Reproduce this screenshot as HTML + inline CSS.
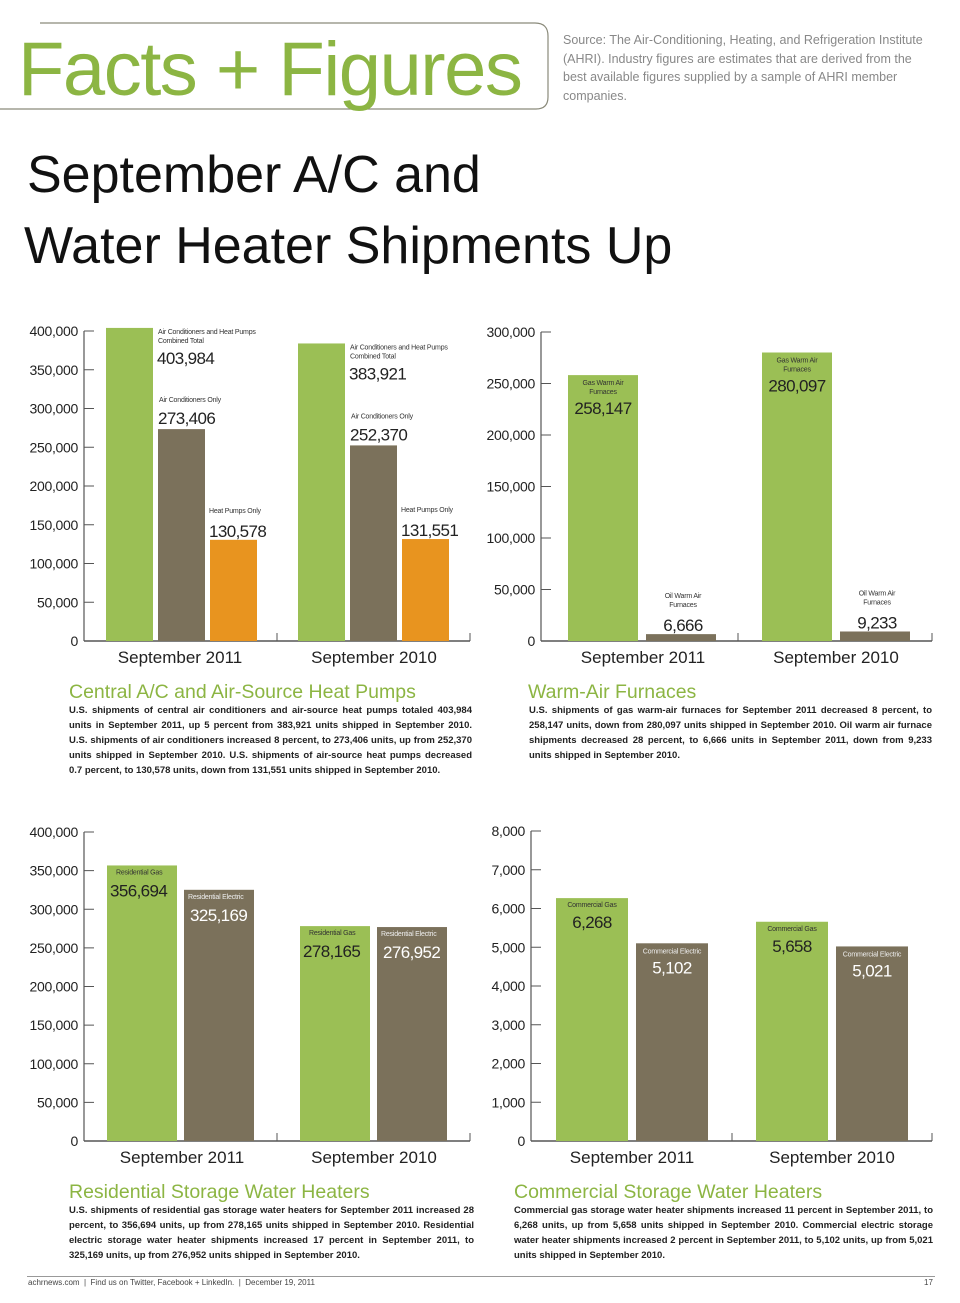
<!DOCTYPE html>
<html><head><meta charset="utf-8">
<style>
html,body{margin:0;padding:0;background:#fff;}
body{width:960px;height:1303px;position:relative;overflow:hidden;font-family:"Liberation Sans",sans-serif;}
.abs{position:absolute;}
.h2{position:absolute;color:#8cb543;font-size:19.5px;}
.body{position:absolute;font-size:9.5px;line-height:15px;color:#222;text-align:justify;font-weight:bold;}
</style></head><body>
<svg class="abs" style="left:0;top:0" width="960" height="120">
<path d="M0 109 H536 Q548 109 548 97 V36 Q548 23 535 23 H40" fill="none" stroke="#8a8a7a" stroke-width="1.2"/>
</svg>
<div class="abs" style="left:18px;top:22px;font-size:76px;color:#8cb543;letter-spacing:-1.5px;line-height:96px;">Facts + Figures</div>
<div class="abs" style="left:563px;top:31px;width:360px;font-size:12.5px;line-height:18.5px;color:#888;">Source: The Air-Conditioning, Heating, and Refrigeration Institute (AHRI). Industry figures are estimates that are derived from the best available figures supplied by a sample of AHRI member companies.</div>
<div class="abs" style="left:27px;top:140px;font-size:52px;line-height:71px;color:#111;">September A/C and<br><span style="margin-left:-3px">Water Heater Shipments Up</span></div>

<svg id="charts" class="abs" style="left:0;top:0" width="960" height="1303"></svg>

<div class="h2" style="left:69px;top:681px;">Central A/C and Air-Source Heat Pumps</div>
<div class="body" style="left:69px;top:703px;width:403px;">U.S. shipments of central air conditioners and air-source heat pumps totaled 403,984 units in September 2011, up 5 percent from 383,921 units shipped in September 2010. U.S. shipments of air conditioners increased 8 percent, to 273,406 units, up from 252,370 units shipped in September 2010. U.S. shipments of air-source heat pumps decreased 0.7 percent, to 130,578 units, down from 131,551 units shipped in September 2010.</div>
<div class="h2" style="left:528px;top:681px;">Warm-Air Furnaces</div>
<div class="body" style="left:529px;top:703px;width:403px;">U.S. shipments of gas warm-air furnaces for September 2011 decreased 8 percent, to 258,147 units, down from 280,097 units shipped in September 2010. Oil warm air furnace shipments decreased 28 percent, to 6,666 units in September 2011, down from 9,233 units shipped in September 2010.</div>
<div class="h2" style="left:69px;top:1181px;">Residential Storage Water Heaters</div>
<div class="body" style="left:69px;top:1203px;width:405px;">U.S. shipments of residential gas storage water heaters for September 2011 increased 28 percent, to 356,694 units, up from 278,165 units shipped in September 2010. Residential electric storage water heater shipments increased 17 percent in September 2011, to 325,169 units, up from 276,952 units shipped in September 2010.</div>
<div class="h2" style="left:514px;top:1181px;">Commercial Storage Water Heaters</div>
<div class="body" style="left:514px;top:1203px;width:419px;">Commercial gas storage water heater shipments increased 11 percent in September 2011, to 6,268 units, up from 5,658 units shipped in September 2010. Commercial electric storage water heater shipments increased 2 percent in September 2011, to 5,102 units, up from 5,021 units shipped in September 2010.</div>

<div class="abs" style="left:27px;top:1276px;width:908px;height:1px;background:#999;"></div>
<div class="abs" style="left:28px;top:1278px;font-size:8px;color:#444;">achrnews.com &nbsp;|&nbsp; Find us on Twitter, Facebook + LinkedIn. &nbsp;|&nbsp; December 19, 2011</div>
<div class="abs" style="left:924px;top:1278px;font-size:8px;color:#444;">17</div>

<script>
const categories = ["September 2011", "September 2010"];
const acCombined = [403984, 383921];
const acOnly = [273406, 252370];
const heatPumps = [130578, 131551];
const acTicks = ["0","50,000","100,000","150,000","200,000","250,000","300,000","350,000","400,000"];
const gasFurnace = [258147, 280097];
const oilFurnace = [6666, 9233];
const furnTicks = ["0","50,000","100,000","150,000","200,000","250,000","300,000"];
const resGas = [356694, 278165];
const resElec = [325169, 276952];
const resTicks = ["0","50,000","100,000","150,000","200,000","250,000","300,000","350,000","400,000"];
const comGas = [6268, 5658];
const comElec = [5102, 5021];
const comTicks = ["0","1,000","2,000","3,000","4,000","5,000","6,000","7,000","8,000"];

const NS = "http://www.w3.org/2000/svg";
const svg = document.getElementById("charts");
const G="#9bbf55", B="#7b715b", O="#e8941f";
const VS=17;
function el(tag, attrs, parent){const e=document.createElementNS(NS,tag);for(const k in attrs)e.setAttribute(k,attrs[k]);(parent||svg).appendChild(e);return e;}
function txt(x,y,s,size,fill,anchor,parent,ls){const t=el("text",{x:x,y:y,"font-size":size,fill:fill,"text-anchor":anchor||"start","font-family":"Liberation Sans, sans-serif","letter-spacing":ls||0},parent);t.textContent=s;return t;}
function val(g,x,y,v,fill,anchor){return txt(x,y,v.toLocaleString("en-US"),VS,fill,anchor,g,-0.6);}

function chart(cfg){
  const g=el("g",{});
  
  
  const y=v=>cfg.y0-(v/cfg.max)*(cfg.y0-cfg.yTop);
  el("line",{x1:cfg.ax,y1:cfg.yTop,x2:cfg.ax,y2:cfg.y0,stroke:"#555","stroke-width":1.2},g);
  el("line",{x1:cfg.ax,y1:cfg.y0,x2:cfg.axEnd,y2:cfg.y0,stroke:"#555","stroke-width":1.5},g);
  el("line",{x1:cfg.mid,y1:cfg.y0-8,x2:cfg.mid,y2:cfg.y0,stroke:"#555","stroke-width":1},g);
  el("line",{x1:cfg.axEnd,y1:cfg.y0-8,x2:cfg.axEnd,y2:cfg.y0,stroke:"#555","stroke-width":1},g);
  const step=cfg.max/(cfg.ticks.length-1);
  cfg.ticks.forEach((t,i)=>{
    const yy=y(i*step);
    if(i>0) el("line",{x1:cfg.ax,y1:yy,x2:cfg.ax+10,y2:yy,stroke:"#555","stroke-width":1},g);
    const tl=txt(cfg.ax-6,yy+5,t,14,"#222","end",g,-0.3);
    
  });
  categories.forEach((c,ci)=>{
    const cl=txt(cfg.catX[ci],cfg.y0+22,c,17,"#222","middle",g);
    
    cfg.series.forEach((s,si)=>{
      const v=s.data[ci];
      const x=cfg.groupX[ci]+si*(cfg.bw+cfg.gap);
      const top=y(v);
      const r=el("rect",{x:x,y:top,width:cfg.bw,height:cfg.y0-top,fill:s.color},g);
      
      
      s.label(g,x,top,v,ci);
    });
  });
}
function small(g,x,yy,lines,fill,anchor){lines.forEach((l,i)=>txt(x,yy+i*9,l,7,fill,anchor,g,-0.2));}

chart({name:"central-ac-chart",ax:84,axEnd:470,mid:277,yTop:331,y0:641,max:400000,ticks:acTicks,bw:47,gap:5,groupX:[106,298],catX:[180,374],
 series:[
  {key:"combined",data:acCombined,color:G,label:(g,x,top,v)=>{small(g,x+52,top+6,["Air Conditioners and Heat Pumps","Combined Total"],"#333");val(g,x+51,top+36,v,"#222");}},
  {key:"ac-only",data:acOnly,color:B,label:(g,x,top,v)=>{small(g,x+1,top-27,["Air Conditioners Only"],"#333");val(g,x,top-5,v,"#222");}},
  {key:"heat-pumps",data:heatPumps,color:O,label:(g,x,top,v)=>{small(g,x-1,top-27,["Heat Pumps Only"],"#333");val(g,x-1,top-3,v,"#222");}}
 ]});
chart({name:"furnaces-chart",ax:541,axEnd:932,mid:738,yTop:332,y0:641,max:300000,ticks:furnTicks,bw:70,gap:8,groupX:[568,762],catX:[643,836],
 series:[
  {key:"gas-furnace",data:gasFurnace,color:G,label:(g,x,top,v)=>{small(g,x+35,top+10,["Gas Warm Air","Furnaces"],"#333","middle");val(g,x+35,top+39,v,"#222","middle");}},
  {key:"oil-furnace",data:oilFurnace,color:B,label:(g,x,top,v)=>{small(g,x+37,top-36,["Oil Warm Air","Furnaces"],"#333","middle");val(g,x+37,top-3,v,"#222","middle");}}
 ]});
chart({name:"residential-chart",ax:84,axEnd:470,mid:277,yTop:832,y0:1141,max:400000,ticks:resTicks,bw:70,gap:7,groupX:[107,300],catX:[182,374],
 series:[
  {key:"res-gas",data:resGas,color:G,label:(g,x,top,v)=>{small(g,x+9,top+9,["Residential Gas"],"#333");val(g,x+3,top+31,v,"#222");}},
  {key:"res-elec",data:resElec,color:B,label:(g,x,top,v)=>{small(g,x+4,top+9,["Residential Electric"],"#eee");val(g,x+6,top+31,v,"#fff");}}
 ]});
chart({name:"commercial-chart",ax:531,axEnd:932,mid:732,yTop:831,y0:1141,max:8000,ticks:comTicks,bw:72,gap:8,groupX:[556,756],catX:[632,832],
 series:[
  {key:"com-gas",data:comGas,color:G,label:(g,x,top,v)=>{small(g,x+36,top+9,["Commercial Gas"],"#333","middle");val(g,x+36,top+30,v,"#222","middle");}},
  {key:"com-elec",data:comElec,color:B,label:(g,x,top,v)=>{small(g,x+36,top+10,["Commercial Electric"],"#eee","middle");val(g,x+36,top+30,v,"#fff","middle");}}
 ]});
</script>
</body></html>
